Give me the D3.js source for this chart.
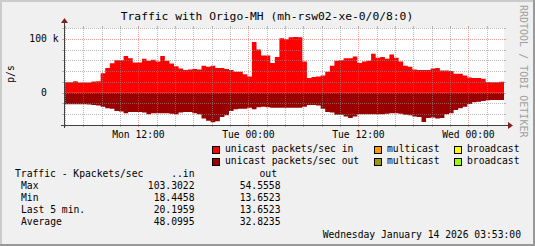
<!DOCTYPE html>
<html>
<head>
<meta charset="utf-8">
<script src="https://cdn.jsdelivr.net/npm/d3@7"></script>
<style>
  body { margin: 0; background: #f0f0f0; }
  svg { display: block; }
  text { font-family: "DejaVu Sans Mono", monospace; white-space: pre; fill: #000; }
</style>
</head>
<body>
<svg id="chart"></svg>
<script>
// unicast packets/sec, in thousands, one value per 30 min starting Mon 03:53
const inValues = [
  19.3, 19.5, 21, 19, 19, 19, 20.5, 21, 36, 46,
  54.5, 60, 60, 68, 64, 56, 56, 63, 59, 61,
  58, 68, 59, 54, 49, 45, 42, 43, 44, 43,
  50, 48, 50, 46, 46, 44, 42, 39, 39, 34,
  30, 94, 80, 69, 69, 55, 66, 101, 99, 103,
  103.3, 103, 58, 27, 29, 30, 32, 39, 50, 59,
  60, 64, 64, 67, 55, 58, 59, 72, 65, 66,
  63, 71, 65, 58, 50, 48, 43, 42, 42, 42,
  45, 46, 41, 41, 40, 35, 35, 32, 28, 27,
  27, 26, 20, 19.3, 19.5, 20.2
];
const outValues = [
  21.5, 21.5, 21.5, 21.5, 21.5, 22, 23, 24, 26, 29,
  30, 34, 35, 38, 36, 36, 36, 37, 40, 38,
  38, 38, 38, 39, 40, 37, 36, 36, 38, 40,
  48, 52, 55, 53, 45, 42, 34, 31, 30, 30,
  28, 31, 27, 26, 27, 28, 28, 28, 28, 28,
  28, 28, 26, 23, 23, 24, 30, 36, 37, 41,
  41, 44, 47, 44, 40, 40, 40, 40, 40, 40,
  39, 38, 38, 39, 41, 42, 44, 45, 54.5, 47,
  46, 48, 47, 40, 38, 32, 29, 26, 21, 18,
  17, 15.5, 14, 13.65, 13.65, 13.65
];

const title = "Traffic with Origo-MH (mh-rsw02-xe-0/0/8:0)";
const yTicks = [0, 100];
const yTickLabels = ["0  ", "100 k"];
const legendNames = [
  ["unicast packets/sec in", "multicast", "broadcast"],
  ["unicast packets/sec out", "multicast", "broadcast"]
];
const legendColors = [
  ["#ff0000", "#ff9900", "#ffff00"],
  ["#990000", "#999900", "#99ff00"]
];
const statHeader = ["Traffic - Kpackets/sec", "..in", "out"];
const statLabels = ["Max", "Min", "Last 5 min.", "Average"];
const statIn = ["103.3022", "18.4458", "20.1959", "48.0995"];
const statOut = ["54.5558", "13.6523", "13.6523", "32.8235"];
const dateText = "Wednesday January 14 2026 03:53:00";

const widthSvg = 535;
const heightSvg = 246;
const plot = { left: 64, right: 504, top: 28, bottom: 125 };
const start = Date.UTC(2026, 0, 12, 3, 53);
const end = Date.UTC(2026, 0, 14, 3, 53);
const stepMs = 30 * 60 * 1000;

const svg = d3.select('#chart')
  .attr('width', widthSvg)
  .attr('height', heightSvg);

// frame
svg.append('rect').attr('width', widthSvg).attr('height', heightSvg).attr('fill', '#f0f0f0');
svg.append('path').attr('d', `M0,0H${widthSvg}V2H2V${heightSvg}H0Z`).attr('fill', '#cbcbcb');
svg.append('path').attr('d', `M${widthSvg},${heightSvg}H0V${heightSvg - 2}H${widthSvg - 2}V0H${widthSvg}Z`).attr('fill', '#999999');

const scaleX = d3.scaleUtc().domain([start, end]).range([plot.left, plot.right]);
const scaleY = d3.scaleLinear().domain([-60, 120]).range([plot.bottom, plot.top]);

svg.append('rect')
  .attr('x', plot.left).attr('y', plot.top)
  .attr('width', plot.right - plot.left).attr('height', plot.bottom - plot.top)
  .attr('fill', '#ffffff');

const toPoints = vals => {
  const pts = vals.map((v, i) => ({ t: start + i * stepMs, v }));
  pts.push({ t: end, v: vals[vals.length - 1] });
  return pts;
};

const areaIn = d3.area()
  .x(d => scaleX(d.t)).y0(scaleY(0)).y1(d => scaleY(d.v))
  .curve(d3.curveStepAfter);
const areaOut = d3.area()
  .x(d => scaleX(d.t)).y0(scaleY(0)).y1(d => scaleY(-d.v))
  .curve(d3.curveStepAfter);

svg.append('path').attr('d', areaIn(toPoints(inValues))).attr('fill', '#ff0000');
svg.append('path').attr('d', areaOut(toPoints(outValues))).attr('fill', '#990000');

// grid
const minorCol = 'rgba(140,140,140,0.6)';
const majorCol = 'rgba(230,80,80,0.55)';
const gGrid = svg.append('g').attr('shape-rendering', 'crispEdges');

d3.utcHour.every(2).range(start, end).forEach(t => {
  const isMajor = d3.utcHour.count(d3.utcDay.floor(t), t) % 6 === 0;
  const px = Math.round(scaleX(t)) + 0.5;
  const col = isMajor ? majorCol : minorCol;
  gGrid.append('line').attr('x1', px).attr('x2', px).attr('y1', plot.top).attr('y2', plot.bottom)
    .attr('stroke', col).attr('stroke-dasharray', '1,1');
  gGrid.append('line').attr('x1', px).attr('x2', px).attr('y1', plot.top - 2).attr('y2', plot.top)
    .attr('stroke', col);
  gGrid.append('line').attr('x1', px).attr('x2', px).attr('y1', plot.bottom).attr('y2', plot.bottom + 2)
    .attr('stroke', col);
});

d3.range(-40, 121, 20).forEach(v => {
  const py = Math.round(scaleY(v)) + 0.5;
  const col = yTicks.includes(v) ? majorCol : minorCol;
  gGrid.append('line').attr('x1', plot.left).attr('x2', plot.right).attr('y1', py).attr('y2', py)
    .attr('stroke', col).attr('stroke-dasharray', '1,1');
  gGrid.append('line').attr('x1', plot.left - 2).attr('x2', plot.left).attr('y1', py).attr('y2', py)
    .attr('stroke', col);
  gGrid.append('line').attr('x1', plot.right).attr('x2', plot.right + 2).attr('y1', py).attr('y2', py)
    .attr('stroke', col);
});

// axes with arrows
const axisCol = '#404040';
const arrowCol = '#7f1f1f';
const x0 = plot.left + 0.5;
const y0 = plot.bottom + 0.5;
svg.append('line').attr('x1', plot.left - 3).attr('x2', plot.right + 6).attr('y1', y0).attr('y2', y0)
  .attr('stroke', axisCol);
svg.append('line').attr('x1', x0).attr('x2', x0).attr('y1', plot.bottom + 3).attr('y2', plot.top - 6)
  .attr('stroke', axisCol);
svg.append('path').attr('d', `M${plot.right + 4},${y0 - 3.5}L${plot.right + 9},${y0}L${plot.right + 4},${y0 + 3.5}Z`)
  .attr('fill', arrowCol);
svg.append('path').attr('d', `M${x0 - 3.5},${plot.top - 5}L${x0},${plot.top - 10}L${x0 + 3.5},${plot.top - 5}Z`)
  .attr('fill', arrowCol);

// labels
const fs = '9.7px';
svg.append('text').attr('x', 267).attr('y', 20).attr('text-anchor', 'middle')
  .style('font-size', '11.3px').text(title);

svg.selectAll('.xlab')
  .data(d3.utcHour.every(12).range(start, end))
  .enter().append('text')
  .attr('x', d => scaleX(d)).attr('y', 138).attr('text-anchor', 'middle')
  .style('font-size', fs)
  .text(d => d3.utcFormat('%a %H:%M')(d));

svg.selectAll('.ylab')
  .data(yTicks)
  .enter().append('text')
  .attr('x', 58.5).attr('y', d => scaleY(d) + 3.5).attr('text-anchor', 'end')
  .style('font-size', fs)
  .text((d, i) => yTickLabels[i]);

svg.append('text').attr('transform', 'translate(14,74) rotate(-90)').attr('text-anchor', 'middle')
  .style('font-size', fs).text('p/s');

svg.append('text').attr('transform', 'translate(519.5,5) rotate(90)')
  .style('font-size', '10px').style('fill', '#a0a0a0').text('RRDTOOL / TOBI OETIKER');

// legend
const boxX = [212, 374, 454];
const textX = [225, 387, 467];
legendNames.forEach((row, r) => {
  row.forEach((name, c) => {
    svg.append('rect').attr('x', boxX[c] + 0.5).attr('y', 146 + r * 12 + 0.5)
      .attr('width', 7).attr('height', 7)
      .attr('fill', legendColors[r][c]).attr('stroke', '#000');
    svg.append('text').attr('x', textX[c]).attr('y', 152 + r * 12)
      .style('font-size', fs).text(name);
  });
});

// stats
svg.append('text').attr('x', 15).attr('y', 177).style('font-size', fs).text(statHeader[0]);
svg.append('text').attr('x', 194.5).attr('y', 177).attr('text-anchor', 'end').style('font-size', fs).text(statHeader[1]);
svg.append('text').attr('x', 277).attr('y', 177).attr('text-anchor', 'end').style('font-size', fs).text(statHeader[2]);
statLabels.forEach((lab, i) => {
  const yy = 189 + i * 12;
  svg.append('text').attr('x', 21).attr('y', yy).style('font-size', fs).text(lab);
  svg.append('text').attr('x', 194.5).attr('y', yy).attr('text-anchor', 'end').style('font-size', fs).text(statIn[i]);
  svg.append('text').attr('x', 280.5).attr('y', yy).attr('text-anchor', 'end').style('font-size', fs).text(statOut[i]);
});
svg.append('text').attr('x', 521).attr('y', 238).attr('text-anchor', 'end').style('font-size', fs).text(dateText);
</script>
</body>
</html>
